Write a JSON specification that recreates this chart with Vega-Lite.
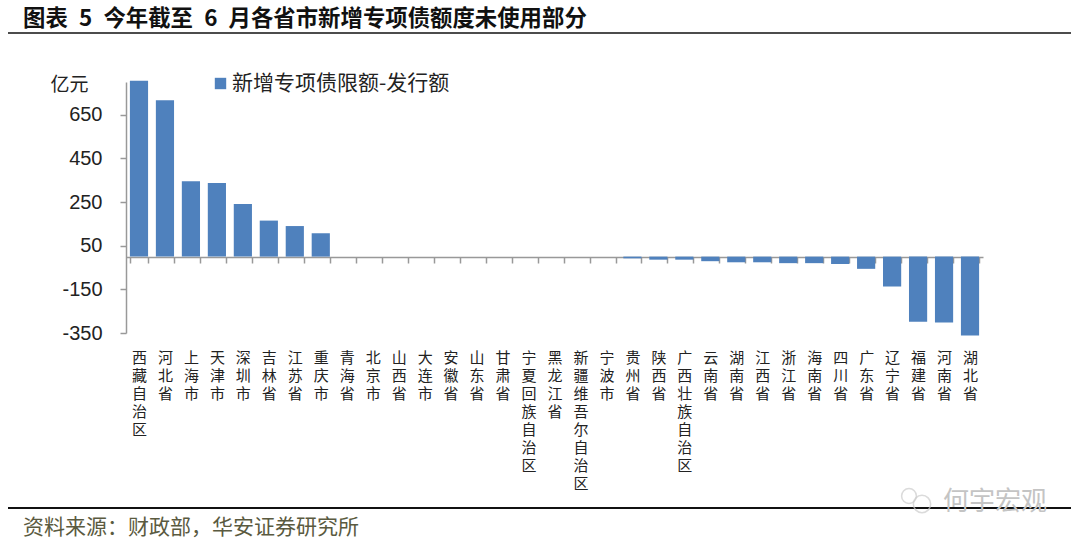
{
"$schema":"https://vega.github.io/schema/vega-lite/v6.json",
"width":857,"height":251,
"autosize":{"type":"none"},
"padding":{"left":126,"top":82,"right":97,"bottom":215},
"background":"white",
"title":{"text":"图表\u20025\u2002今年截至\u20026\u2002月各省市新增专项债额度未使用部分","anchor":"start","frame":"group","dx":-103,"offset":2,"font":"Noto Sans CJK SC","fontSize":22.4,"fontWeight":"bold","color":"#111111"},
"config":{"view":{"stroke":null},"font":"Noto Sans CJK SC"},
"data":{"values":[
{"地区":"西藏自治区","值":806},{"地区":"河北省","值":716},{"地区":"上海市","值":345},{"地区":"天津市","值":337},{"地区":"深圳市","值":241},{"地区":"吉林省","值":165},{"地区":"江苏省","值":140},{"地区":"重庆市","值":107},
{"地区":"青海省","值":0},{"地区":"北京市","值":0},{"地区":"山西省","值":0},{"地区":"大连市","值":0},{"地区":"安徽省","值":0},{"地区":"山东省","值":0},{"地区":"甘肃省","值":0},{"地区":"宁夏回族自治区","值":0},{"地区":"黑龙江省","值":0},{"地区":"新疆维吾尔自治区","值":0},{"地区":"宁波市","值":0},
{"地区":"贵州省","值":-8},{"地区":"陕西省","值":-14},{"地区":"广西壮族自治区","值":-14},{"地区":"云南省","值":-21},{"地区":"湖南省","值":-26},{"地区":"江西省","值":-26},{"地区":"浙江省","值":-30},{"地区":"海南省","值":-30},{"地区":"四川省","值":-34},{"地区":"广东省","值":-56},{"地区":"辽宁省","值":-137},{"地区":"福建省","值":-298},{"地区":"河南省","值":-302},{"地区":"湖北省","值":-361}
]},
"layer":[
{"transform":[{"calculate":"'新增专项债限额-发行额'","as":"系列"}],
 "mark":{"type":"bar"},
 "encoding":{
  "x":{"field":"地区","type":"nominal","sort":null,"scale":{"paddingInner":0.3,"paddingOuter":0.15},
   "axis":{"title":null,"offset":-76,"labelAngle":0,"labelExpr":"split(datum.label,'')","labelLineHeight":18,"labelPadding":87,"labelFontSize":15,"labelColor":"#222222","labelBaseline":"top","labelAlign":"center","labelOverlap":false,"labelBound":false,"labelFlush":false,"labelLimit":0,"tickBand":"extent","tickSize":6,"tickColor":"#999999","tickWidth":1.5,"domainColor":"#999999","domainWidth":1.5,"grid":false}},
  "y":{"field":"值","type":"quantitative","scale":{"domain":[-350,800],"nice":false,"zero":false},
   "axis":{"values":[-350,-150,50,250,450,650],"labelExpr":"''+datum.value","title":"亿元","titleAngle":0,"titleX":-76,"titleY":2,"titleAlign":"left","titleBaseline":"middle","titleFontSize":19,"titleFontWeight":"normal","titleColor":"#222222","labelFont":"Liberation Sans","labelFontSize":20,"labelColor":"#222222","labelPadding":18,"tickSize":6,"tickColor":"#999999","tickWidth":1.5,"domainColor":"#999999","domainWidth":1.5,"grid":false}},
  "color":{"field":"系列","type":"nominal","scale":{"range":["#4F81BD"]},
   "legend":{"title":null,"orient":"none","legendX":84,"legendY":-9,"symbolType":"square","symbolSize":130,"labelFontSize":21,"labelOffset":1,"labelColor":"#222222","labelLimit":0}}
 }},
{"data":{"values":[{"a":1}]},"mark":{"type":"rule","color":"#111111","strokeWidth":1.5},"encoding":{"x":{"value":-118},"x2":{"value":945},"y":{"value":-49}}},
{"data":{"values":[{"a":1}]},"mark":{"type":"rule","color":"#111111","strokeWidth":2},"encoding":{"x":{"value":-118},"x2":{"value":945},"y":{"value":426}}},
{"data":{"values":[{"t":"资料来源：财政部，华安证券研究所"}]},"mark":{"type":"text","align":"left","baseline":"middle","fontSize":21,"color":"#5a5a40"},"encoding":{"text":{"field":"t"},"x":{"value":-103},"y":{"value":446}}},
{"data":{"values":[{"t":"何宇宏观"}]},"mark":{"type":"text","align":"left","baseline":"middle","fontSize":26,"color":"#c4c4c4"},"encoding":{"text":{"field":"t"},"x":{"value":817},"y":{"value":420}}},
{"data":{"values":[{"a":1}]},"mark":{"type":"point","shape":"circle","filled":false,"size":220,"color":"#cccccc","strokeWidth":1.5},"encoding":{"x":{"value":783},"y":{"value":414}}},
{"data":{"values":[{"a":1}]},"mark":{"type":"point","shape":"circle","filled":false,"size":300,"color":"#cccccc","strokeWidth":1.5},"encoding":{"x":{"value":796},"y":{"value":422}}}
]
}
